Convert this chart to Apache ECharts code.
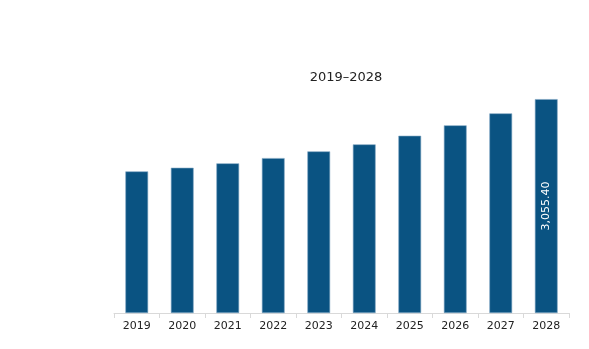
<!DOCTYPE html>
<html><head><meta charset="utf-8">
<script src="https://cdn.jsdelivr.net/npm/echarts@6/dist/echarts.min.js"></script>
<style>html,body{margin:0;padding:0;background:#fff}#c{width:589px;height:349px}</style>
</head><body><div id="c"></div>
<script>
const categories = ['2019','2020','2021','2022','2023','2024','2025','2026','2027','2028'];
const values = [2023, 2075, 2138, 2213, 2309, 2409, 2532, 2681, 2852, 3055.40];
const titleText = '2019–2028';
const labelIndex = 9;

const chart = echarts.init(document.getElementById('c'));
chart.setOption({
  animation: false,
  title: { text: titleText, left: 341, top: 66, textAlign: 'center',
    textStyle: { fontFamily: 'DejaVu Sans', fontSize: 13, fontWeight: 'normal', color: '#222' } },
  grid: { left: 114, right: 20, bottom: 36, top: 68 },
  xAxis: { type: 'category', data: categories,
    axisLine: { lineStyle: { color: '#d9d9d9' } },
    axisTick: { show: true, length: 5, lineStyle: { color: '#d9d9d9' } },
    axisLabel: { fontFamily: 'DejaVu Sans', fontSize: 11, color: '#222', margin: 8 } },
  yAxis: { type: 'value', min: 0, max: 3500, show: false, splitLine: { show: false } },
  series: [{
    type: 'bar', barWidth: '50%',
    data: values.map((v, i) => ({ value: v, label: { show: i === labelIndex } })),
    itemStyle: { color: '#0a5382', borderColor: '#7fa6c2', borderWidth: 0.6 },
    label: { position: 'inside', rotate: 90, color: '#fff', fontFamily: 'DejaVu Sans', fontSize: 11,
      formatter: p => p.value.toLocaleString('en-US', { minimumFractionDigits: 2, maximumFractionDigits: 2 }) }
  }]
});
</script></body></html>
